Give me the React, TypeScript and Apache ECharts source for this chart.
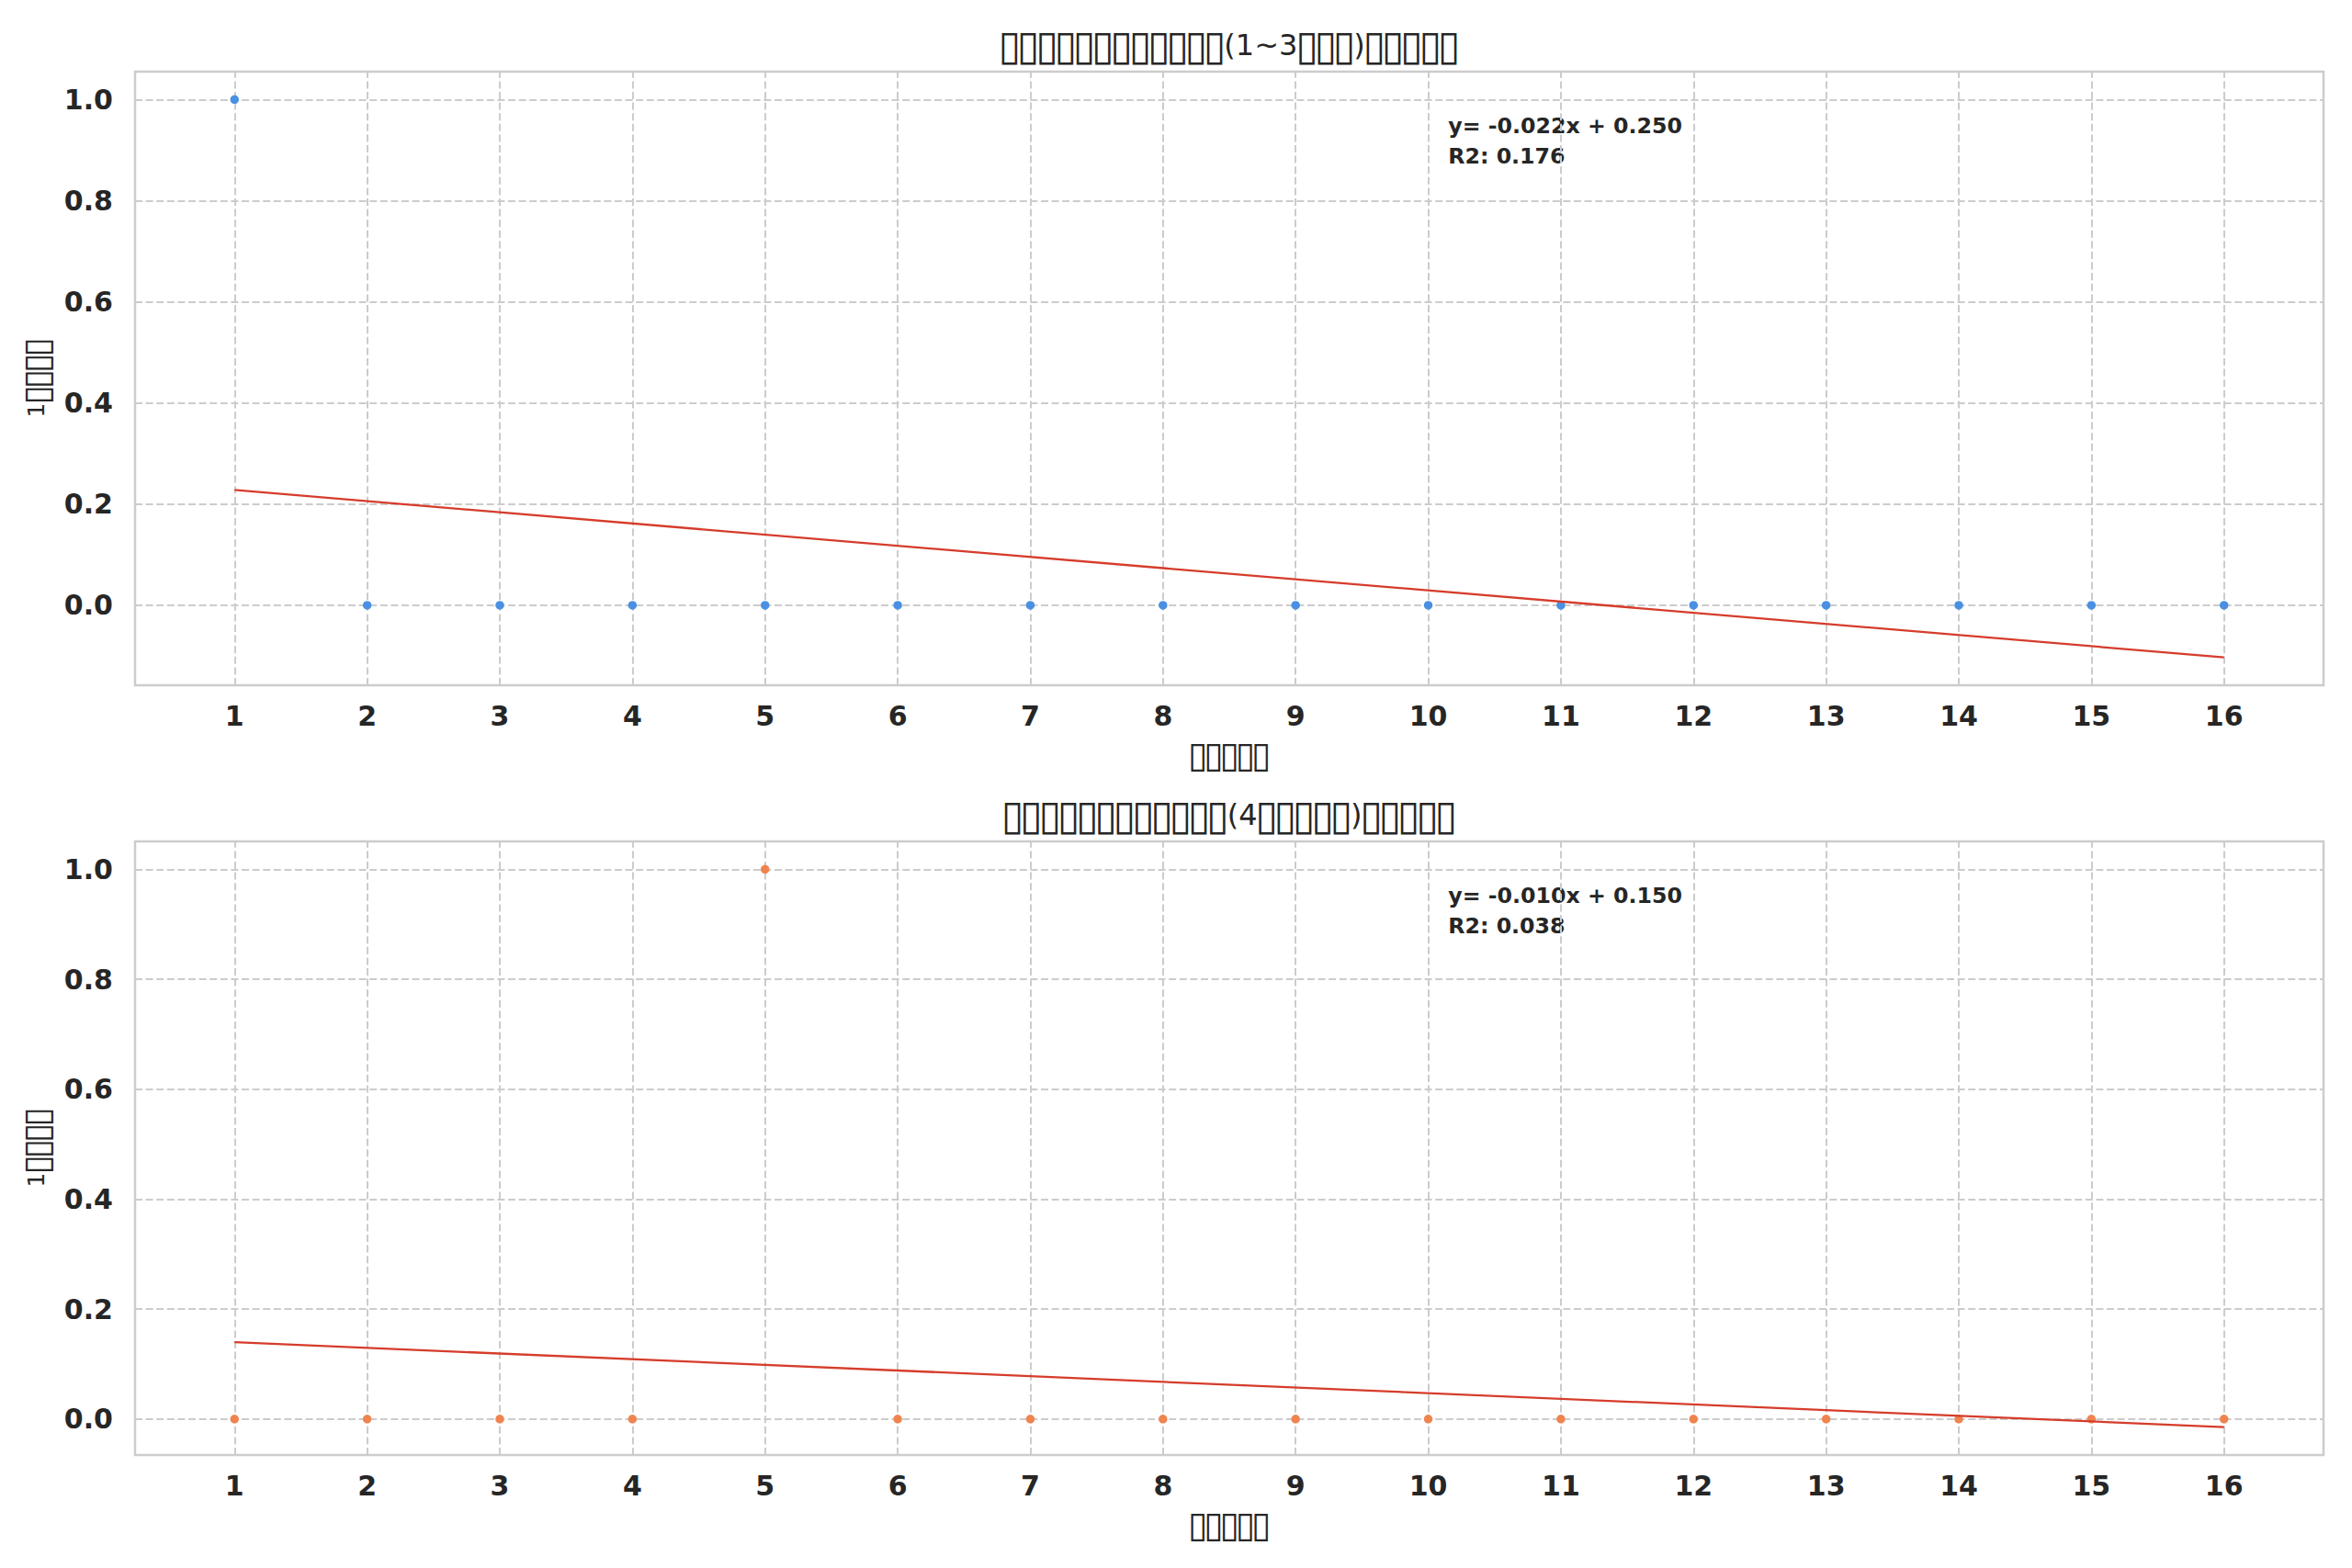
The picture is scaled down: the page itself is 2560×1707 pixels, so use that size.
import React, { useEffect, useRef } from "react";
import * as echarts from "echarts";

// ---------- data ----------
const months = [1, 2, 3, 4, 5, 6, 7, 8, 9, 10, 11, 12, 13, 14, 15, 16];
const topValues = [1, 0, 0, 0, 0, 0, 0, 0, 0, 0, 0, 0, 0, 0, 0, 0];
const bottomValues = [0, 0, 0, 0, 1, 0, 0, 0, 0, 0, 0, 0, 0, 0, 0, 0];
const xTickValues = [1, 2, 3, 4, 5, 6, 7, 8, 9, 10, 11, 12, 13, 14, 15, 16];
const yTickValues = [0, 0.2, 0.4, 0.6, 0.8, 1.0];
const panelTitles = [
  "▯▯▯▯▯▯▯▯▯▯▯▯(1~3▯▯▯)▯▯▯▯▯",
  "▯▯▯▯▯▯▯▯▯▯▯▯(4▯▯▯▯▯)▯▯▯▯▯",
];
const xAxisName = "▯▯▯▯▯";
const yAxisName = "1▯▯▯▯";
const pointColors = ["#4a90e2", "#ef8450"];
const fitColor = "#d63c2b";

// ---------- helpers ----------
function linearFit(xs: number[], ys: number[]) {
  const n = xs.length;
  const mx = xs.reduce((a, b) => a + b, 0) / n;
  const my = ys.reduce((a, b) => a + b, 0) / n;
  let sxy = 0, sxx = 0, syy = 0;
  for (let i = 0; i < n; i++) {
    sxy += (xs[i] - mx) * (ys[i] - my);
    sxx += (xs[i] - mx) ** 2;
    syy += (ys[i] - my) ** 2;
  }
  const slope = sxy / sxx;
  const intercept = my - slope * mx;
  const r2 = (sxy * sxy) / (sxx * syy);
  return { slope, intercept, r2 };
}

// missing-glyph boxes get their own rich style so their size matches the reference
const boxify = (s: string) => s.replace(/▯/g, "{b|▯}");

const FONT = '"DejaVu Sans", "Noto Sans", sans-serif';
const TEXT = "#262626";
const GRID_LEFT = 147;
const GRID_W = 2382;
const GRID_H = 668;
const GRID_TOPS = [78, 916];
const LABEL_SIZE = 25;

export default function App() {
  const ref = useRef<HTMLDivElement>(null);

  useEffect(() => {
    if (!ref.current) return;
    const chart = echarts.init(ref.current, null, { renderer: "svg" });

    const panels = [topValues, bottomValues];
    const grids: any[] = [];
    const xAxes: any[] = [];
    const yAxes: any[] = [];
    const series: any[] = [];
    const graphics: any[] = [];

    const labelRich = {
      b: { fontSize: 39, width: 17.3, align: "center", fontFamily: FONT, color: TEXT },
    };

    panels.forEach((vals, i) => {
      const f = linearFit(months, vals);
      const x0 = months[0];
      const x1 = months[months.length - 1];
      const fy0 = f.intercept + f.slope * x0;
      const fy1 = f.intercept + f.slope * x1;
      const allY = [...vals, fy0, fy1];
      const ylo = Math.min(...allY);
      const yhi = Math.max(...allY);
      const ym = (yhi - ylo) * 0.05;
      const xm = (x1 - x0) * 0.05;

      grids.push({
        left: GRID_LEFT,
        top: GRID_TOPS[i],
        width: GRID_W,
        height: GRID_H,
        show: true,
        borderColor: "#cccccc",
        borderWidth: 2.5,
        backgroundColor: "#ffffff",
      });

      xAxes.push({
        type: "value",
        gridIndex: i,
        min: x0 - xm,
        max: x1 + xm,
        axisLine: { show: false },
        axisTick: { show: false },
        splitLine: { show: false },
        axisLabel: {
          customValues: xTickValues,
          formatter: (v: number) => String(v),
          fontSize: 30,
          fontWeight: "bold",
          color: TEXT,
          fontFamily: FONT,
          margin: 18,
        },
        name: boxify(xAxisName),
        nameLocation: "middle",
        nameGap: 56,
        nameTextStyle: { fontSize: LABEL_SIZE, color: TEXT, fontFamily: FONT, rich: labelRich },
      });

      yAxes.push({
        type: "value",
        gridIndex: i,
        min: ylo - ym,
        max: yhi + ym,
        axisLine: { show: false },
        axisTick: { show: false },
        splitLine: { show: false },
        axisLabel: {
          customValues: yTickValues,
          formatter: (v: number) => v.toFixed(1),
          fontSize: 30,
          fontWeight: "bold",
          color: TEXT,
          fontFamily: FONT,
          margin: 24,
        },
        name: boxify(yAxisName),
        nameLocation: "middle",
        nameGap: 74,
        nameRotate: 90,
        nameTextStyle: { fontSize: LABEL_SIZE, color: TEXT, fontFamily: FONT, rich: labelRich },
      });

      // grid lines (kept underneath the points)
      series.push({
        type: "scatter",
        xAxisIndex: i,
        yAxisIndex: i,
        data: [],
        z: 1,
        silent: true,
        markLine: {
          z: 1,
          silent: true,
          symbol: ["none", "none"],
          label: { show: false },
          emphasis: { disabled: true },
          lineStyle: { color: "#cccccc", width: 2, type: [8, 3.6] },
          data: [
            ...xTickValues.map((v) => ({ xAxis: v })),
            ...yTickValues.map((v) => ({ yAxis: v })),
          ],
        },
      });

      series.push({
        type: "scatter",
        xAxisIndex: i,
        yAxisIndex: i,
        data: months.map((m, k) => [m, vals[k]]),
        symbol: "circle",
        symbolSize: 9.5,
        itemStyle: { color: pointColors[i], opacity: 1, borderWidth: 0 },
        z: 6,
      });

      series.push({
        type: "line",
        xAxisIndex: i,
        yAxisIndex: i,
        data: [
          [x0, fy0],
          [x1, fy1],
        ],
        showSymbol: false,
        symbol: "none",
        lineStyle: { color: fitColor, width: 2.3 },
        z: 7,
      });

      graphics.push({
        type: "text",
        x: GRID_LEFT + GRID_W / 2,
        y: 49 + (GRID_TOPS[i] - GRID_TOPS[0]),
        style: {
          text: boxify(panelTitles[i]),
          align: "center",
          verticalAlign: "middle",
          fontSize: 32,
          fontFamily: FONT,
          fill: TEXT,
          rich: {
            b: { fontSize: 45, width: 20.3, align: "center", fontFamily: FONT, fill: TEXT },
          },
        },
      });

      const sign = f.intercept >= 0 ? "+" : "-";
      graphics.push({
        type: "text",
        left: GRID_LEFT + GRID_W * 0.6,
        top: 120 + (GRID_TOPS[i] - GRID_TOPS[0]),
        style: {
          text:
            `y= ${f.slope.toFixed(3)}x ${sign} ${Math.abs(f.intercept).toFixed(3)}\n` +
            `R2: ${f.r2.toFixed(3)}`,
          fontSize: 23.7,
          fontWeight: "bold",
          fontFamily: FONT,
          fill: TEXT,
          lineHeight: 33,
        },
      });
    });

    chart.setOption({
      animation: false,
      backgroundColor: "#ffffff",
      grid: grids,
      xAxis: xAxes,
      yAxis: yAxes,
      series,
      graphic: graphics,
    });

    return () => chart.dispose();
  }, []);

  return (
    <div
      ref={ref}
      style={{ position: "fixed", left: 0, top: 0, width: 2560, height: 1707 }}
    />
  );
}
